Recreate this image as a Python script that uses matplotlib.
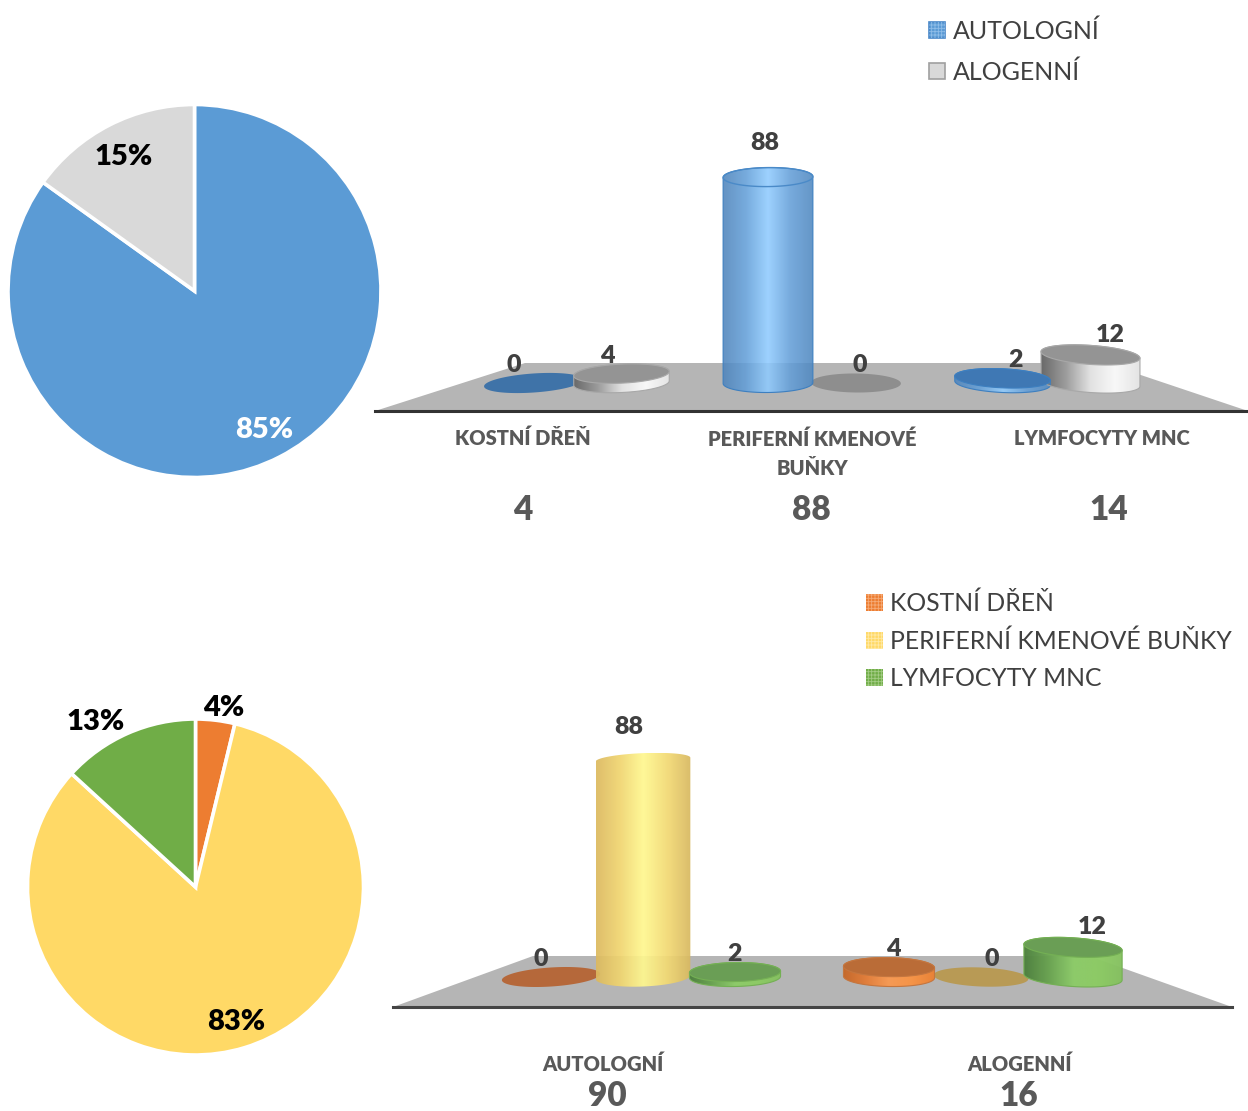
import numpy as np
import matplotlib
matplotlib.use('Agg')
import matplotlib.pyplot as plt
from matplotlib.colors import LinearSegmentedColormap
from matplotlib.patches import Polygon, Rectangle

plt.rcParams['font.family'] = ['Lato', 'DejaVu Sans']
plt.rcParams['hatch.linewidth'] = 0.6

W, H = 1248, 1111
TEXT_DARK = '#404040'
TEXT_GREY = '#595959'
HEAVY = 'heavy'

# pie data (number of transplants)
donor_names = ['AUTOLOGNÍ', 'ALOGENNÍ']
donor_totals = [90, 16]
source_names = ['KOSTNÍ DŘEŇ', 'PERIFERNÍ KMENOVÉ BUŇKY', 'LYMFOCYTY MNC']
source_totals = [4, 88, 14]

# top bars: graft source on the x axis, one series per donor type
top_categories = ['KOSTNÍ DŘEŇ', 'PERIFERNÍ KMENOVÉ\nBUŇKY', 'LYMFOCYTY MNC']
top_autologni = [0, 88, 2]
top_alogenni = [4, 0, 12]

# bottom bars: donor type on the x axis, one series per graft source
bottom_categories = ['AUTOLOGNÍ', 'ALOGENNÍ']
bottom_kostni = [0, 4]
bottom_periferni = [88, 0]
bottom_lymfocyty = [2, 12]

# series looks: side gradient, top face, flat zero disc
BLUE = dict(side=['#4f84bb', '#639fd8', '#90ccff', '#649fd8', '#5088c0'], alpha=0.88,
            top='#3f78b4', flat='#3f73a8', edge='#3d7fc0', ring='#4a8ac8', top_b=9.5)
GREY = dict(side=['#6a6a6a', '#9c9c9c', '#e2e2e2', '#f8f8f8', '#e4e4e4'], alpha=1,
            top='#949494', flat='#8e8e8e', edge='#a8a8a8', ring=None, top_b=9.5)
ORANGE = dict(side=['#c4692c', '#e07e3c', '#f59a55', '#f59448', '#e88237'], alpha=1,
              top='#ba6c37', flat='#b5683a', edge='#c4763f', ring=None, top_b=9.5)
YELLOW = dict(side=['#dcb95f', '#f0d570', '#fff890', '#f3da74', '#d8b860'], alpha=0.93,
              top='#b89a55', flat='#b89a55', edge='none', ring=None, top_b=6.5)
GREEN = dict(side=['#4c7f3d', '#69a350', '#8ccb68', '#8ccb64', '#85c060'], alpha=0.97,
             top='#6a9e55', flat='#5f9348', edge='#74b054', ring=None, top_b=9.5)


def px_axes(x0, y0, x1, y1):
    # axes given by its pixel box, y measured from the top of the image
    return plt.gcf().add_axes([x0 / W, 1 - y1 / H, (x1 - x0) / W, (y1 - y0) / H])


def put(x, y, s, **kw):
    kw.setdefault('ha', 'center')
    kw.setdefault('va', 'center')
    fig.text(x / W, 1 - (y + 2) / H, s, **kw)


def draw_pie(box, values, colors, label_pos, label_colors):
    ax = px_axes(*box)
    wedges, _, pcts = ax.pie(values, colors=colors, startangle=90, counterclock=False,
                             autopct='%.0f%%', radius=1,
                             wedgeprops=dict(edgecolor='white', linewidth=2.6))
    ax.set_xlim(-1, 1)
    ax.set_ylim(-1, 1)
    for w in wedges:
        w.set_clip_on(False)
    for t, pos, c in zip(pcts, label_pos, label_colors):
        t.set_visible(False)
        put(pos[0], pos[1], t.get_text(), color=c, fontsize=21, fontweight=HEAVY)


def ellipse(cx_px, cy_px, a, b, tilt, t):
    # tilted ellipse in pixels, y going up
    ang = np.radians(tilt)
    x = a * np.cos(t)
    y = b * np.sin(t)
    return cx_px + x * np.cos(ang) - y * np.sin(ang), cy_px + x * np.sin(ang) + y * np.cos(ang)


def draw_cylinder(ax, x, value, style, base_w, b=9.5):
    # the chart is a picture of a 3D cylinder, so the ellipses are worked out in pixels
    x0, x1 = ax.get_xlim()
    y0, y1 = ax.get_ylim()
    box = ax.get_window_extent()
    ppx = box.width / (x1 - x0)
    ppy = box.height / (y1 - y0)
    off = (x - x0) * ppx + box.x0 - CENTER_PX
    a = (base_w + 0.04 * abs(off)) / 2
    tilt = -off / 70
    to_x = lambda p: x + p / ppx
    to_y = lambda p: value + p / ppy

    t_all = np.linspace(0, 2 * np.pi, 120)
    ex, ey = ellipse(0, 0, a, b, tilt, t_all)
    if value == 0:
        ax.add_patch(Polygon(np.c_[to_x(ex), to_y(ey)], closed=True, facecolor=style['flat'],
                             edgecolor='none', zorder=3))
        return

    # silhouette: lower half of the base disc + upper half of the top disc
    hi = value * ppy
    top_b = style['top_b'] if value > 50 else b
    bx, by = ellipse(0, -hi, a, b, tilt, np.linspace(np.pi, 2 * np.pi, 60))
    tx, ty = ellipse(0, 0, a, top_b, tilt, np.linspace(0, np.pi, 60))
    px = np.r_[bx, tx]
    py = np.r_[by, ty]
    body = Polygon(np.c_[to_x(px), to_y(py)], closed=True, facecolor='none',
                   edgecolor=style['edge'], linewidth=0.8, zorder=5)
    ax.add_patch(body)
    cmap = LinearSegmentedColormap.from_list('side', style['side'])
    img = ax.imshow(np.linspace(0, 1, 256)[None, :], cmap=cmap, aspect='auto',
                    alpha=style['alpha'],
                    extent=(to_x(px.min()), to_x(px.max()), to_y(py.min()), to_y(py.max())),
                    zorder=4)
    img.set_clip_path(body)

    if value > 50:
        # tall cylinders keep the gradient on the top, only the rim shows
        if style['ring']:
            ax.add_patch(Polygon(np.c_[to_x(ex), to_y(ey)], closed=True, facecolor='none',
                                 edgecolor=style['ring'], linewidth=1.0, zorder=6))
    else:
        ax.add_patch(Polygon(np.c_[to_x(ex), to_y(ey)], closed=True, facecolor=style['top'],
                             edgecolor=style['edge'], linewidth=0.8, zorder=6))


def draw_bars(box, zero_y, px_per_unit, first_x, spacing, series, styles, step,
              floor, line_color, label_dx, label_dy):
    x0, y0, x1, y1 = box
    ax = px_axes(*box)
    ax.set_autoscale_on(False)
    ax.set_xlim((x0 - first_x) / spacing, (x1 - first_x) / spacing)
    ax.set_ylim((zero_y - y1) / px_per_unit, (zero_y - y0) / px_per_unit)
    ax.axis('off')

    # grey floor of the 3D chart, drawn in pixels on the figure
    fig.add_artist(Polygon([(p[0] / W, 1 - p[1] / H) for p in floor], closed=True,
                           transform=fig.transFigure, facecolor='#b5b5b5', edgecolor='none',
                           zorder=-1))
    fig.add_artist(plt.Line2D([floor[0][0] / W, floor[1][0] / W],
                              [1 - floor[0][1] / H, 1 - floor[1][1] / H],
                              color=line_color, linewidth=2.2, zorder=0))

    n = len(series)
    # flat discs go first, the real cylinders sit on top of them
    for flat_pass in (True, False):
        for j, (vals, style) in enumerate(zip(series, styles)):
            for i, v in enumerate(vals):
                if (v == 0) != flat_pass:
                    continue
                draw_cylinder(ax, i + (j - (n - 1) / 2) * step, v, style, 88)

    for j, vals in enumerate(series):
        for i, v in enumerate(vals):
            xx = i + (j - (n - 1) / 2) * step + label_dx[j][i] / spacing
            ax.text(xx, v + label_dy[j][i] / px_per_unit, str(v), ha='center', va='center',
                    color=TEXT_DARK, fontsize=18, fontweight=HEAVY, clip_on=False, zorder=8)
    return ax


def swatch(x, y, size, color, hatch_color=None, edge=None):
    r = Rectangle((x / W, 1 - (y + size) / H), size / W, size / H, transform=fig.transFigure,
                  facecolor=color, edgecolor=edge if edge else 'none', linewidth=1.2)
    fig.add_artist(r)
    if hatch_color:
        fig.add_artist(Rectangle((x / W, 1 - (y + size) / H), size / W, size / H,
                                 transform=fig.transFigure, facecolor='none',
                                 edgecolor=hatch_color, hatch='+++++', linewidth=0))


fig = plt.figure(figsize=(W / 100, H / 100), dpi=100, facecolor='white')

# =============================================================================
# Top row
# =============================================================================
draw_pie((8, 104.5, 381, 477.5), donor_totals, ['#5B9BD5', '#D9D9D9'],
         [(264, 428), (124, 155)], ['white', 'black'])

CENTER_PX = 812
draw_bars((375, 100, 1248, 412), 383, 2.34, 577.5, 234.5,
          [top_autologni, top_alogenni], [BLUE, GREY], 88 / 234.5,
          [(375, 411), (1248, 411), (1105, 363), (525, 363)], '#333333',
          [[-20, -3, 13], [-14, 4, 20]], [[18, 34, 18], [18, 18, 20]])

for xc, label in zip([523, 812, 1102], top_categories):
    put(xc, 436 if '\n' not in label else 451.5, label, color=TEXT_GREY, fontsize=14.5,
        fontweight=HEAVY, linespacing=1.62)
for xc, v in zip([523, 811, 1109], [a + b for a, b in zip(top_autologni, top_alogenni)]):
    put(xc, 508, str(v), color=TEXT_GREY, fontsize=24, fontweight=HEAVY)

# legend of the top chart
swatch(929, 22, 16, '#5B9BD5', '#8fbde8', '#4a88c8')
swatch(929, 63, 16, '#D9D9D9', None, '#a0a0a0')
for y, name in zip([29, 70], donor_names):
    put(953, y, name, ha='left', color=TEXT_DARK, fontsize=18)

# =============================================================================
# Bottom row
# =============================================================================
draw_pie((27.5, 719, 363.5, 1055), source_totals, ['#ED7D31', '#FFD966', '#70AD47'],
         [(224, 706), (236, 1020), (96, 720)], ['black', 'black', 'black'])

draw_bars((390, 700, 1240, 1008), 977, 2.47, 643, 338,
          [bottom_kostni, bottom_periferni, bottom_lymfocyty], [ORANGE, YELLOW, GREEN], 92 / 338,
          [(393, 1007), (1232, 1007), (1089, 956), (533, 956)], '#444444',
          [[-10, 4], [-14, 11], [0, 19]], [[18, 18], [33, 18], [18, 20]])

for xc, label in zip([603, 1020], bottom_categories):
    put(xc, 1062, label, color=TEXT_GREY, fontsize=14.5, fontweight=HEAVY)
bottom_sum = np.array(bottom_kostni) + np.array(bottom_periferni) + np.array(bottom_lymfocyty)
for xc, v in zip([607, 1019], bottom_sum):
    put(xc, 1094, str(v), color=TEXT_GREY, fontsize=24, fontweight=HEAVY)

# legend of the bottom chart
swatch(866, 594, 17, '#ED7D31', '#f5ab78')
swatch(866, 632, 17, '#FFD966', '#ffe9a6')
swatch(866, 669, 17, '#70AD47', '#a3cc85')
for y, name in zip([601, 639, 676], source_names):
    put(890, y, name, ha='left', color=TEXT_DARK, fontsize=17.8)

fig.savefig('out.png', dpi=100)
